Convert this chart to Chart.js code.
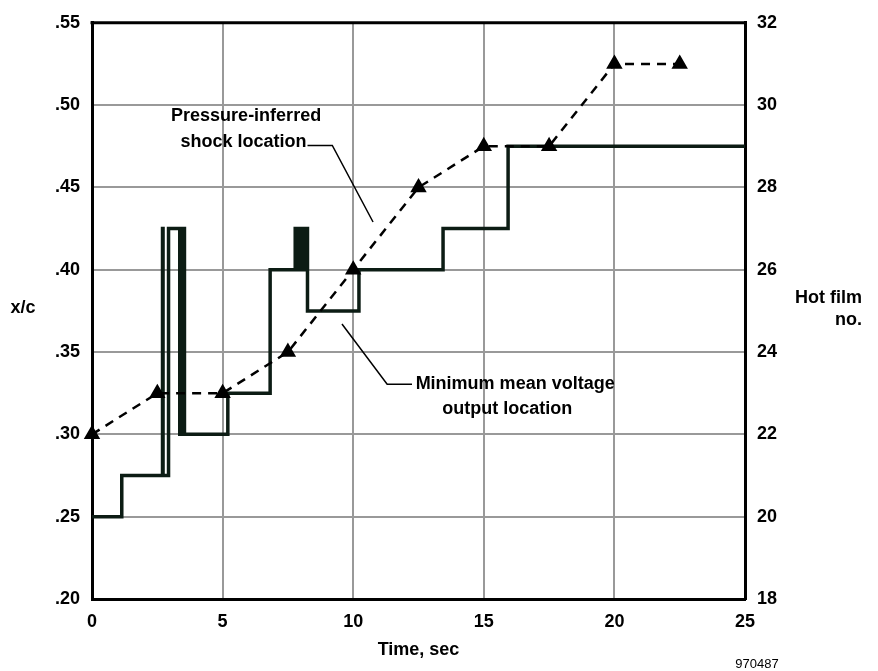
<!DOCTYPE html>
<html>
<head>
<meta charset="utf-8">
<script src="https://cdn.jsdelivr.net/npm/chart.js@4/dist/chart.umd.min.js"></script>
<style>
  body { margin: 0; background: #fff; }
  canvas { display: block; }
</style>
</head>
<body>
<canvas id="chart" width="878" height="671"></canvas>
<script>
// hot film trace: time of each change, and the x/c held from that time on
const filmTimes = [0, 1.14, 2.7, 2.72, 2.93, 3.36, 3.39, 3.42, 3.45, 3.48, 3.51, 3.54, 3.57,
  5.2, 6.82, 7.78, 7.82, 7.86, 7.9, 7.94, 7.98, 8.02, 8.06, 8.1, 8.14, 8.18, 8.22, 8.25,
  10.22, 13.44, 15.93, 25];
const filmValues = [0.25, 0.275, 0.425, 0.275, 0.425, 0.30, 0.425, 0.30, 0.425, 0.30, 0.425, 0.30, 0.30,
  0.325, 0.40, 0.425, 0.40, 0.425, 0.40, 0.425, 0.40, 0.425, 0.40, 0.425, 0.40, 0.425, 0.425, 0.375,
  0.40, 0.425, 0.475, 0.475];

// pressure-inferred shock location
const shockTimes = [0, 2.5, 5, 7.5, 10, 12.5, 15, 17.5, 20, 22.5];
const shockValues = [0.30, 0.325, 0.325, 0.35, 0.40, 0.45, 0.475, 0.475, 0.525, 0.525];

const xTicks = [0, 5, 10, 15, 20, 25];
const leftTicks = [0.20, 0.25, 0.30, 0.35, 0.40, 0.45, 0.50, 0.55];
const rightTicks = [18, 20, 22, 24, 26, 28, 30, 32];

const tickFont = { family: "'Liberation Sans', Arial, sans-serif", size: 18, weight: "bold" };

const labelsPlugin = {
  id: "labels",
  afterDraw(chart) {
    const ctx = chart.ctx;
    const a = chart.chartArea;
    const x = chart.scales.x;
    const y = chart.scales.y;
    ctx.save();
    // top frame line
    ctx.strokeStyle = "#000";
    ctx.lineWidth = 3;
    ctx.beginPath();
    ctx.moveTo(a.left - 1.5, a.top);
    ctx.lineTo(a.right + 1.5, a.top);
    ctx.stroke();

    ctx.fillStyle = "#000";
    ctx.font = "bold 18px 'Liberation Sans', Arial, sans-serif";
    ctx.textBaseline = "middle";
    ctx.textAlign = "center";
    ctx.fillText("x/c", 23, 308);
    ctx.fillText("Time, sec", (a.left + a.right) / 2, 650);
    ctx.textAlign = "right";
    ctx.fillText("Hot film", 862, 298);
    ctx.fillText("no.", 862, 320);

    ctx.textAlign = "center";
    ctx.fillText("Pressure-inferred", x.getPixelForValue(5.9), y.getPixelForValue(0.4935));
    ctx.fillText("shock location", x.getPixelForValue(5.8), y.getPixelForValue(0.4775));
    ctx.fillText("Minimum mean voltage", x.getPixelForValue(16.2), y.getPixelForValue(0.3305));
    ctx.fillText("output location", x.getPixelForValue(15.9), y.getPixelForValue(0.3155));

    ctx.font = "13px 'Liberation Sans', Arial, sans-serif";
    ctx.fillText("970487", 757, 664);

    // leader lines
    ctx.lineWidth = 1.5;
    ctx.beginPath();
    ctx.moveTo(x.getPixelForValue(8.25), y.getPixelForValue(0.4755));
    ctx.lineTo(x.getPixelForValue(9.2), y.getPixelForValue(0.4755));
    ctx.lineTo(x.getPixelForValue(10.76), y.getPixelForValue(0.429));
    ctx.moveTo(x.getPixelForValue(9.57), y.getPixelForValue(0.367));
    ctx.lineTo(x.getPixelForValue(11.3), y.getPixelForValue(0.3305));
    ctx.lineTo(x.getPixelForValue(12.25), y.getPixelForValue(0.3305));
    ctx.stroke();
    ctx.restore();
  }
};

new Chart(document.getElementById("chart"), {
  type: "line",
  data: {
    datasets: [
      {
        label: "Minimum mean voltage output location",
        data: filmTimes.map((t, i) => ({ x: t, y: filmValues[i] })),
        stepped: "before",
        borderColor: "#0c1c14",
        borderWidth: 3.5,
        pointRadius: 0,
        fill: false,
        order: 2
      },
      {
        label: "Pressure-inferred shock location",
        data: shockTimes.map((t, i) => ({ x: t, y: shockValues[i] })),
        borderColor: "#000",
        borderWidth: 2.5,
        borderDash: [9, 7],
        tension: 0,
        pointStyle: "triangle",
        pointRadius: 7,
        pointBackgroundColor: "#000",
        pointBorderColor: "#000",
        fill: false,
        clip: false,
        order: 1
      }
    ]
  },
  options: {
    responsive: false,
    animation: false,
    layout: { padding: { top: 17 } },
    plugins: { legend: { display: false }, tooltip: { enabled: false } },
    scales: {
      x: {
        type: "linear",
        min: 0,
        max: 25,
        afterBuildTicks: (s) => { s.ticks = xTicks.map(v => ({ value: v })); },
        afterFit: (s) => { s.height = 72; },
        ticks: { color: "#000", font: tickFont, padding: 12, maxRotation: 0 },
        grid: { color: "#999", lineWidth: 2, drawTicks: false },
        border: { color: "#000", width: 3 }
      },
      y: {
        position: "left",
        min: 0.20,
        max: 0.55,
        afterBuildTicks: (s) => { s.ticks = leftTicks.map(v => ({ value: v })); },
        afterFit: (s) => { s.width = 92; },
        ticks: {
          color: "#000",
          font: tickFont,
          padding: 12,
          callback: (v) => Number(v).toFixed(2).replace(/^0/, "")
        },
        grid: { color: "#999", lineWidth: 2, drawTicks: false },
        border: { color: "#000", width: 3 }
      },
      y2: {
        position: "right",
        min: 18,
        max: 32,
        afterBuildTicks: (s) => { s.ticks = rightTicks.map(v => ({ value: v })); },
        afterFit: (s) => { s.width = 133; },
        ticks: { color: "#000", font: tickFont, padding: 12 },
        grid: { display: false, drawTicks: false },
        border: { color: "#000", width: 3 }
      }
    }
  },
  plugins: [labelsPlugin]
});
</script>
</body>
</html>
